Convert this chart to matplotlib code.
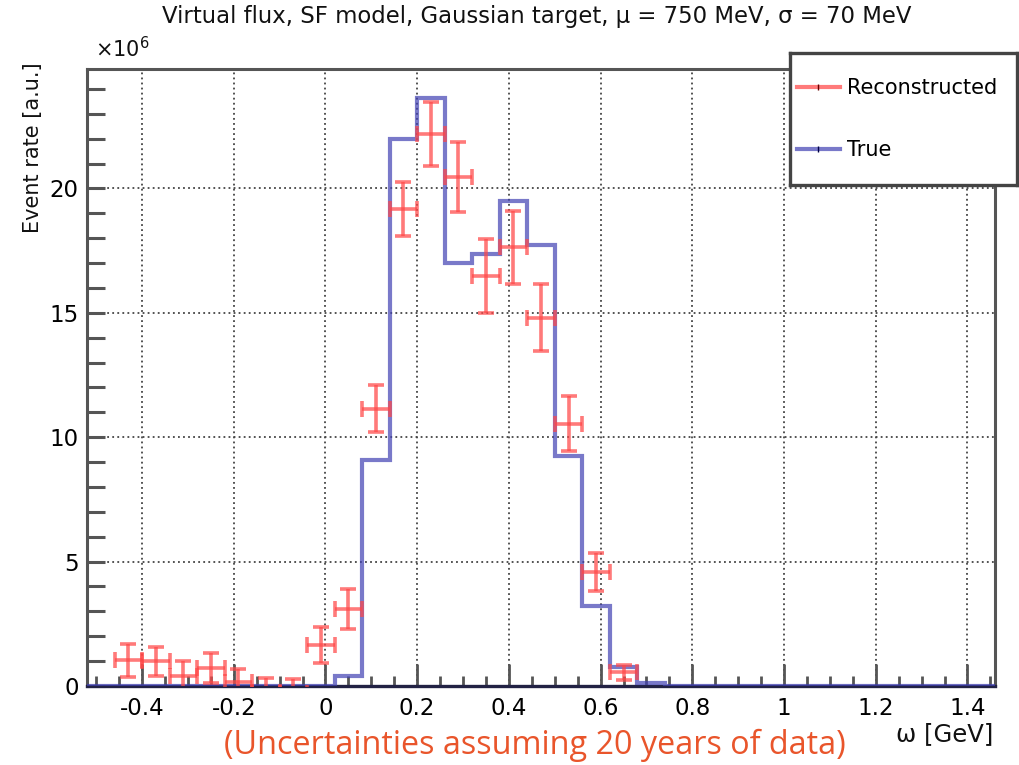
import matplotlib
matplotlib.use("Agg")
import matplotlib.pyplot as plt
from matplotlib.lines import Line2D
from matplotlib.ticker import MultipleLocator, FixedLocator

# ---------------- data ----------------
true_edges = [-0.52, 0.02, 0.08, 0.14, 0.20, 0.26, 0.32, 0.38, 0.44, 0.50,
              0.56, 0.62, 0.68, 0.74, 1.46]
true_vals = [0.0, 0.40, 9.08, 21.97, 23.64, 17.02, 17.35, 19.49, 17.74,
             9.25, 3.23, 0.75, 0.13, 0.0]

reco_x = [-0.43, -0.37, -0.31, -0.25, -0.19, -0.13, -0.07, -0.01, 0.05,
          0.11, 0.17, 0.23, 0.29, 0.35, 0.41, 0.47, 0.53, 0.59, 0.65]
reco_y = [1.04, 1.00, 0.40, 0.74, 0.15, -0.25, -0.30, 1.65, 3.08,
          11.15, 19.16, 22.19, 20.46, 16.48, 17.64, 14.81, 10.55, 4.57, 0.55]
reco_err = [0.66, 0.58, 0.60, 0.60, 0.52, 0.58, 0.58, 0.72, 0.80,
            0.93, 1.08, 1.29, 1.40, 1.47, 1.47, 1.33, 1.10, 0.77, 0.30]
reco_xerr = 0.03

x_major = [-0.4, -0.2, 0, 0.2, 0.4, 0.6, 0.8, 1, 1.2, 1.4]
x_labels = ["-0.4", "-0.2", "0", "0.2", "0.4", "0.6", "0.8", "1", "1.2", "1.4"]
y_major = [0, 5, 10, 15, 20]
y_labels = ["0", "5", "10", "15", "20"]

title = "Virtual flux, SF model, Gaussian target, \u03bc = 750 MeV, \u03c3 = 70 MeV"
xlabel = "\u03c9 [GeV]"
ylabel = "Event rate [a.u.]"
note = "(Uncertainties assuming 20 years of data)"
legend_labels = ["Reconstructed", "True"]

# ---------------- figure ----------------
plt.rcParams['font.family'] = ['DejaVu Sans']
plt.rcParams['axes.unicode_minus'] = False

W, H = 1019, 765
fig = plt.figure(figsize=(W / 100, H / 100), dpi=100)
ax = fig.add_axes([87 / W, 1 - 686 / H, (995 - 87) / W, (686 - 69) / H])

red = (1.0, 0.28, 0.28, 0.72)
blue = (0.25, 0.25, 0.70, 0.7)

ax.stairs(true_vals, true_edges, color=blue, linewidth=3.0, baseline=0, zorder=3)
ax.errorbar(reco_x, reco_y, yerr=reco_err, xerr=reco_xerr, fmt='none',
            ecolor=red, elinewidth=2.6, capsize=5.5, capthick=2.6, zorder=4)

ax.set_xlim(-0.52, 1.46)
ax.set_ylim(0, 24.8)

ax.xaxis.set_major_locator(FixedLocator(x_major))
ax.set_xticklabels(x_labels)
ax.xaxis.set_minor_locator(MultipleLocator(0.05))
ax.yaxis.set_major_locator(FixedLocator(y_major))
ax.set_yticklabels(y_labels)
ax.yaxis.set_minor_locator(MultipleLocator(1))

tc = '#555555'
ax.tick_params(axis='x', which='major', direction='in', length=16, width=2,
               color=tc, labelsize=16.5, pad=8, top=False)
ax.tick_params(axis='x', which='minor', direction='in', length=7, width=2,
               color=tc, top=False)
ax.tick_params(axis='y', which='both', direction='in', length=13, width=2.2,
               color=tc, labelsize=16.5, pad=6, right=False)

ax.grid(True, which='major', color='#444444', linestyle=(0, (1, 1.8)), linewidth=1.3)
ax.set_axisbelow(True)

for s in ['left', 'top', 'right']:
    ax.spines[s].set_color('#555555')
    ax.spines[s].set_linewidth(2.2)
ax.spines['bottom'].set_color('#222244')
ax.spines['bottom'].set_linewidth(2.4)

fig.text(537 / W, 1 - 16 / H, title, ha='center', va='center', fontsize=16.4, color='#111111')
fig.text(95 / W, 1 - 49 / H, r"$\times$10$^{6}$", ha='left', va='center', fontsize=15,
         color='#111111')
fig.text(33 / W, 1 - 62 / H, ylabel, rotation=90, ha='center', va='top', fontsize=15,
         color='#111111')
fig.text(993 / W, 1 - 734 / H, xlabel, ha='right', va='center', fontsize=17.5, color='#111111')
fig.text(535 / W, 1 - 745 / H, note, ha='center', va='center', fontsize=23.3,
         color='#E9552B', family=['Open Sans', 'DejaVu Sans'])

# legend box as its own small axes
lax = fig.add_axes([790 / W, 1 - 185 / H, (1017 - 790) / W, (185 - 53) / H], zorder=10)
lax.set_xticks([])
lax.set_yticks([])
lax.set_facecolor('white')
for s in lax.spines.values():
    s.set_color('#444444')
    s.set_linewidth(2.4)

handles = [Line2D([], [], color=red, lw=3, marker='|', markersize=4,
                  markeredgecolor='#660000', markeredgewidth=1),
           Line2D([], [], color=blue, lw=3, marker='|', markersize=4,
                  markeredgecolor='#000044', markeredgewidth=1)]
lax.legend(handles, legend_labels, loc='center left', fontsize=15,
           frameon=False, handlelength=2.05, handletextpad=0.34,
           labelspacing=2.0, borderpad=0.0, borderaxespad=0.33)

fig.savefig('out.png', dpi=100)
